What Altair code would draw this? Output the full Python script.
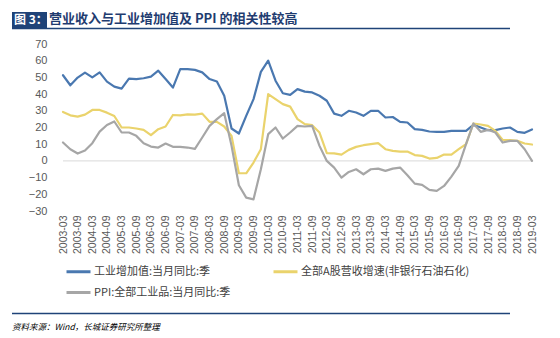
import altair as alt
import pandas as pd

# Quarter labels 2003-03 ... 2019-03
quarters = [f"{y}-{m}" for y in range(2003, 2020) for m in ("03", "06", "09", "12")][:65]
tick_labels = [q for q in quarters if q.endswith("-03") or q.endswith("-09")]

series_names = ["工业增加值:当月同比:季", "全部A股营收增速(非银行石油石化)", "PPI:全部工业品:当月同比:季"]

ind_value_added = [51.3, 45.3, 49.9, 52.9, 50.0, 53.0, 47.5, 44.5, 43.3, 49.3, 49.0, 49.5, 50.5, 54.0,
                   49.0, 43.9, 55.0, 55.0, 54.5, 53.0, 49.0, 47.5, 39.0, 19.4, 16.4, 27.0, 37.0, 53.3,
                   60.0, 48.0, 40.5, 39.5, 43.0, 41.5, 41.0, 39.0, 36.0, 28.3, 27.0, 30.0, 29.0, 27.0,
                   30.0, 30.0, 26.0, 26.3, 23.4, 23.0, 19.0, 18.6, 17.6, 17.4, 17.4, 18.0, 18.0, 18.0,
                   21.6, 20.0, 18.4, 18.4, 19.4, 20.0, 17.4, 16.8, 18.8]
a_share_revenue = [29.3, 27.3, 26.5, 27.7, 30.5, 30.5, 28.9, 26.9, 20.0, 20.0, 19.4, 18.6, 15.4, 19.0,
                   20.6, 27.5, 27.3, 27.9, 27.7, 28.3, 23.4, 23.4, 20.6, 15.0, -7.4, -7.4, -1.0, 7.0,
                   40.0, 37.0, 34.0, 32.5, 25.0, 22.0, 21.4, 17.0, 4.6, 4.5, 3.8, 6.6, 8.4, 9.4,
                   10.0, 10.6, 7.0, 6.0, 5.6, 5.6, 3.5, 3.0, 1.4, 1.8, 3.8, 3.8, 7.0, 10.0,
                   22.4, 21.8, 21.0, 18.0, 12.6, 12.4, 12.0, 10.4, 9.8]
ppi = [11.0, 7.0, 4.4, 6.2, 10.6, 17.5, 21.5, 23.6, 17.0, 17.0, 15.0, 10.6, 8.6, 8.0,
       10.4, 8.4, 8.4, 8.0, 7.2, 14.0, 21.0, 25.0, 28.6, 9.0, -14.6, -22.0, -23.0, -5.0,
       16.0, 20.0, 13.4, 17.0, 21.0, 20.6, 21.0, 9.0, 0.0, -4.0, -10.0, -6.6, -5.0, -8.0,
       -5.0, -4.6, -6.0, -4.6, -4.0, -8.6, -13.6, -14.4, -17.4, -18.0, -15.0, -9.4, -3.0, 10.0,
       22.4, 17.4, 18.6, 17.0, 11.0, 12.0, 12.0, 7.0, 0.0]
y_ticks = [-30, -20, -10, 0, 10, 20, 30, 40, 50, 60, 70]

colors = {series_names[0]: "#4A78B0", series_names[1]: "#EAD36C", series_names[2]: "#A6A6A6"}
# legend fills column by column: blue, PPI (first column), A-share (second column)
legend_order = [series_names[0], series_names[2], series_names[1]]

rows = []
for name, vals in zip(series_names, [ind_value_added, a_share_revenue, ppi]):
    for q, v in zip(quarters, vals):
        rows.append({"quarter": q, "series": name, "value": v})
df = pd.DataFrame(rows)

y_scale = alt.Scale(domain=[-30, 70], nice=False)
y_axis = alt.Axis(values=y_ticks, title=None, labelFont="Liberation Sans",
                  labelFontSize=11, labelColor="#595959", ticks=False, domain=False,
                  grid=False, labelPadding=16, labelOverlap=False, labelFlush=False)

x_enc = alt.X("quarter:O", sort=quarters,
              scale=alt.Scale(type="point", padding=0),
              axis=alt.Axis(values=tick_labels, title=None, labelAngle=270, labelFont="Liberation Sans",
                            labelFontSize=10.5, labelColor="#595959", ticks=False, domain=False,
                            grid=False, labelPadding=4, labelOverlap=False))

zero = alt.Chart(pd.DataFrame({"value": [0]})).mark_rule(color="#D9D9D9", strokeWidth=1).encode(
    y=alt.Y("value:Q", scale=y_scale, axis=y_axis))

lines = alt.Chart(df).mark_line(strokeWidth=2.2, strokeCap="round", strokeJoin="round").encode(
    x=x_enc,
    y=alt.Y("value:Q", scale=y_scale, axis=y_axis),
    color=alt.Color("series:N",
                    scale=alt.Scale(domain=legend_order, range=[colors[s] for s in legend_order]),
                    legend=alt.Legend(title=None, orient="none", legendX=2, legendY=214, columns=2,
                                      columnPadding=36, rowPadding=1, symbolType="M-1,0L1,0",
                                      symbolSize=576, symbolStrokeWidth=3, labelFont="Noto Sans CJK SC",
                                      labelFontSize=11, labelColor="#404040", labelOffset=2,
                                      labelLimit=400, symbolOffset=0)),
)

one = pd.DataFrame({"d": [1]})
title_box = alt.Chart(one).mark_rect(color="#1F4378").encode(
    x=alt.value(-51), x2=alt.value(-16), y=alt.value(-32), y2=alt.value(-16))
title_fig = alt.Chart(one).mark_text(text="图 3：", color="white", font="Noto Sans CJK SC",
                                     fontWeight="bold", fontSize=12, align="left",
                                     baseline="middle").encode(x=alt.value(-49), y=alt.value(-24))
title_main = alt.Chart(one).mark_text(text="营业收入与工业增加值及 PPI 的相关性较高", color="#1F3C70",
                                      font="Noto Sans CJK SC", fontWeight="bold", fontSize=13,
                                      align="left", baseline="middle").encode(
    x=alt.value(-14), y=alt.value(-25))
top_rule = alt.Chart(one).mark_rule(color="#1F4378", strokeWidth=1.5).encode(
    x=alt.value(-51), x2=alt.value(447), y=alt.value(-15.5))
bottom_rule = alt.Chart(one).mark_rule(color="#1F4378", strokeWidth=1.5).encode(
    x=alt.value(-51), x2=alt.value(447), y=alt.value(269.5))
source = alt.Chart(one).mark_text(text="资料来源：Wind，长城证券研究所整理", color="#000000",
                                  font="Noto Sans CJK SC", fontStyle="italic", fontSize=8.5,
                                  align="left", baseline="middle").encode(
    x=alt.value(-51), y=alt.value(283))

chart = alt.layer(zero, lines, title_box, title_fig, title_main, top_rule, bottom_rule, source).properties(
    width=469, height=167,
    autosize=alt.AutoSizeParams(type="none"),
    padding={"left": 63, "top": 44, "right": 28, "bottom": 127},
    background="white",
).configure_view(strokeWidth=0)

chart.save("out.html", embed_options={"renderer": "svg", "actions": False})
